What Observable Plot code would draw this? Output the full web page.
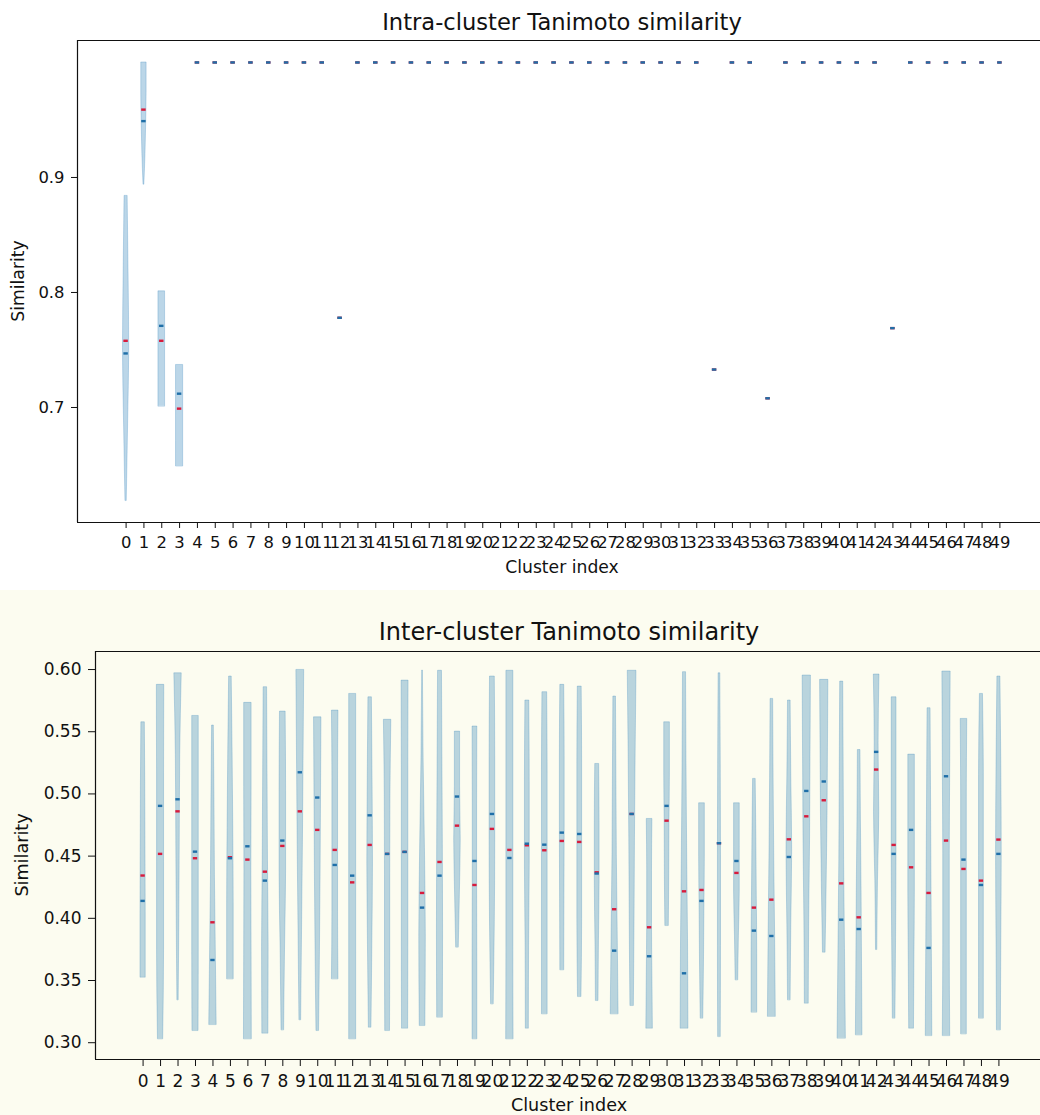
<!DOCTYPE html>
<html>
<head>
<meta charset="utf-8">
<script src="https://cdn.jsdelivr.net/npm/d3@7"></script>
<script src="https://cdn.jsdelivr.net/npm/@observablehq/plot@0.6"></script>
<style>
  body { margin: 0; background: #ffffff; font-family: "DejaVu Sans", sans-serif; color: #111; }
  #page { position: relative; width: 1040px; height: 1115px; overflow: hidden; }
  .panel { position: absolute; left: 0; width: 1040px; }
  #top { top: 0; height: 590px; }
  #bottom { top: 590px; height: 525px; background: #fcfcf0; }
  .txt { position: absolute; white-space: nowrap; transform: translate(-50%, -50%); }
  .rot { transform: translate(-50%, -50%) rotate(-90deg); }
  svg { position: absolute; left: 0; top: 0; overflow: visible; }
</style>
</head>
<body>
<div id="page">
  <div class="panel" id="top"></div>
  <div class="panel" id="bottom"></div>
  <div class="txt" style="left:562px; top:22px; font-size:22.6px;">Intra-cluster Tanimoto similarity</div>
  <div class="txt" style="left:562px; top:567px; font-size:17.2px;">Cluster index</div>
  <div class="txt rot" style="left:18px; top:281px; font-size:17.2px;">Similarity</div>
  <div class="txt" style="left:569px; top:632px; font-size:24px;">Inter-cluster Tanimoto similarity</div>
  <div class="txt" style="left:569px; top:1105px; font-size:17.6px;">Cluster index</div>
  <div class="txt rot" style="left:22px; top:855px; font-size:17.6px;">Similarity</div>
</div>
<script>
// ---------- data ----------
const clusters = [0,1,2,3,4,5,6,7,8,9,10,11,12,13,14,15,16,17,18,19,20,21,22,23,24,25,26,27,28,29,30,31,32,33,34,35,36,37,38,39,40,41,42,43,44,45,46,47,48,49];

// Intra-cluster similarity (top chart)
const intraMin = [0.619,0.894,0.701,0.649,1,1,1,1,1,1,1,1,0.778,1,1,1,1,1,1,1,1,1,1,1,1,1,1,1,1,1,1,1,1,0.733,1,1,0.708,1,1,1,1,1,1,0.769,1,1,1,1,1,1];
const intraMax = [0.884,1.000,0.801,0.737,1,1,1,1,1,1,1,1,0.778,1,1,1,1,1,1,1,1,1,1,1,1,1,1,1,1,1,1,1,1,0.733,1,1,0.708,1,1,1,1,1,1,0.769,1,1,1,1,1,1];
const intraMean = [0.758,0.959,0.758,0.699,1,1,1,1,1,1,1,1,0.778,1,1,1,1,1,1,1,1,1,1,1,1,1,1,1,1,1,1,1,1,0.733,1,1,0.708,1,1,1,1,1,1,0.769,1,1,1,1,1,1];
const intraMedian = [0.747,0.949,0.771,0.712,1,1,1,1,1,1,1,1,0.778,1,1,1,1,1,1,1,1,1,1,1,1,1,1,1,1,1,1,1,1,0.733,1,1,0.708,1,1,1,1,1,1,0.769,1,1,1,1,1,1];
// relative violin width profile from min to max (null = single value, no body)
const intraShape = [
  [0.15,0.45,0.7,0.55,0.35],
  [0.1,0.35,0.5,0.6,0.6],
  [0.75,0.75,0.75,0.75,0.75],
  [0.8,0.8,0.8,0.8,0.8]
].concat(new Array(46).fill(null));
const intraTicks = [0.7, 0.8, 0.9];

// Inter-cluster similarity (bottom chart)
const interMin = [0.3525,0.303,0.3343,0.3097,0.3145,0.3512,0.303,0.3075,0.3102,0.3183,
  0.3097,0.3512,0.303,0.3123,0.3097,0.3115,0.3137,0.3204,0.3767,0.303,
  0.3311,0.303,0.3115,0.3231,0.3585,0.337,0.3338,0.3231,0.3298,0.3115,
  0.3941,0.3115,0.3196,0.3048,0.3504,0.3244,0.321,0.3343,0.3316,0.3726,
  0.3035,0.3062,0.3748,0.3196,0.3115,0.3056,0.3056,0.307,0.3196,0.3102];
const interMax = [0.5576,0.5877,0.597,0.5627,0.555,0.5944,0.5732,0.5858,0.5662,0.5997,
  0.5616,0.567,0.5804,0.5777,0.5596,0.5911,0.5992,0.599,0.5501,0.5542,
  0.5944,0.599,0.5751,0.5818,0.5877,0.5863,0.5241,0.5783,0.599,0.4799,
  0.5576,0.5979,0.4925,0.597,0.4925,0.5121,0.5764,0.5751,0.5952,0.5917,
  0.5903,0.5353,0.596,0.5777,0.5316,0.5689,0.5984,0.5603,0.5804,0.5944];
const interMean = [0.4344,0.4518,0.486,0.4483,0.3968,0.4491,0.4472,0.4375,0.4582,0.486,
  0.4711,0.455,0.4289,0.459,0.4518,0.4534,0.4204,0.4453,0.4745,0.4268,
  0.4719,0.455,0.4587,0.4547,0.4622,0.4614,0.437,0.4073,0.4839,0.3928,
  0.4785,0.4217,0.4228,0.4604,0.4365,0.4086,0.415,0.4635,0.482,0.4949,
  0.4281,0.4008,0.5196,0.459,0.441,0.4204,0.4625,0.4397,0.4303,0.4633];
const interMedian = [0.414,0.4904,0.4957,0.4536,0.3665,0.4483,0.4579,0.4303,0.4625,0.5174,
  0.4971,0.4429,0.4343,0.4828,0.4518,0.4534,0.4086,0.4343,0.4979,0.4461,
  0.4839,0.4485,0.46,0.4592,0.4689,0.4678,0.436,0.374,0.4839,0.3695,
  0.4904,0.3558,0.414,0.4604,0.4461,0.3901,0.3858,0.4493,0.5024,0.51,
  0.3989,0.3914,0.5338,0.4518,0.4711,0.3762,0.5142,0.4472,0.4268,0.4518];
const interShape = [
  [0.6,0.6,0.55,0.5,0.4],[0.6,0.8,0.8,0.8,0.85],[0.15,0.3,0.4,0.5,0.85],[0.7,0.75,0.75,0.75,0.75],[0.85,0.65,0.45,0.35,0.2],
  [0.75,0.75,0.65,0.5,0.3],[0.9,0.85,0.8,0.85,0.85],[0.7,0.75,0.6,0.5,0.4],[0.3,0.5,0.75,0.75,0.65],[0.2,0.4,0.6,0.75,0.9],
  [0.3,0.5,0.65,0.75,0.85],[0.75,0.65,0.65,0.65,0.75],[0.8,0.8,0.8,0.8,0.8],[0.3,0.5,0.65,0.55,0.4],[0.55,0.6,0.6,0.65,0.85],
  [0.7,0.75,0.75,0.75,0.8],[0.65,0.75,0.55,0.25,0.08],[0.65,0.7,0.65,0.55,0.45],[0.3,0.55,0.75,0.6,0.6],[0.55,0.55,0.5,0.5,0.55],
  [0.3,0.55,0.65,0.65,0.55],[0.85,0.8,0.8,0.8,0.8],[0.35,0.4,0.55,0.55,0.45],[0.65,0.65,0.65,0.65,0.55],[0.45,0.5,0.55,0.55,0.45],
  [0.4,0.55,0.55,0.55,0.45],[0.3,0.4,0.55,0.55,0.45],[0.9,0.7,0.5,0.4,0.3],[0.4,0.55,0.65,0.8,1.0],[0.75,0.65,0.55,0.55,0.65],
  [0.4,0.5,0.55,0.65,0.65],[0.9,0.8,0.6,0.45,0.35],[0.3,0.45,0.55,0.65,0.65],[0.3,0.35,0.35,0.3,0.2],[0.3,0.45,0.65,0.65,0.65],
  [0.65,0.65,0.55,0.45,0.3],[0.9,0.75,0.55,0.4,0.3],[0.3,0.45,0.65,0.45,0.3],[0.45,0.55,0.75,0.85,0.95],[0.3,0.55,0.75,0.85,0.95],
  [0.95,0.75,0.55,0.45,0.35],[0.75,0.65,0.55,0.4,0.3],[0.15,0.3,0.6,0.45,0.65],[0.3,0.45,0.55,0.55,0.55],[0.55,0.65,0.75,0.75,0.75],
  [0.75,0.65,0.55,0.45,0.35],[0.85,0.75,0.75,0.85,0.95],[0.65,0.65,0.65,0.65,0.75],[0.55,0.55,0.55,0.55,0.35],[0.45,0.55,0.65,0.55,0.35]
];
const interTicks = [0.30, 0.35, 0.40, 0.45, 0.50, 0.55, 0.60];

// ---------- helpers ----------
const BODY = "#1f77b4", MEAN = "#d81b3c", MEDIAN = "#1f6fa8";
const HALF = 0.25;   // half of violin width (widths = 0.5)
const DASH = 0.125;  // half length of mean / median line

function violinPoints(mins, maxs, shapes) {
  const pts = [];
  clusters.forEach((k, i) => {
    const s = shapes[i];
    if (!s) return;
    s.forEach((w, j) => pts.push({k, v: mins[i] + (maxs[i] - mins[i]) * j / (s.length - 1), w}));
  });
  return pts;
}
const stat = (arr) => clusters.map((k, i) => ({k, v: arr[i]}));

function violinChart({mins, maxs, means, medians, shapes, ticks, fmt, yDomain, xRange, height, mt, mb, ml, fontSize, xt, yt}) {
  return Plot.plot({
    width: 1040, height,
    marginTop: mt, marginBottom: mb, marginLeft: ml, marginRight: 0,
    style: {fontFamily: "DejaVu Sans, sans-serif", fontSize: fontSize, color: "#111", background: "transparent", overflow: "visible"},
    x: {domain: [-2.725, 51.725], range: xRange, ticks: clusters, tickFormat: d => String(d), tickSize: xt[0], tickPadding: xt[1], label: null},
    y: {domain: yDomain, ticks: ticks, tickFormat: fmt, tickSize: yt[0], tickPadding: yt[1], label: null},
    marks: [
      Plot.areaX(violinPoints(mins, maxs, shapes), {
        y: "v", x1: d => d.k - HALF * d.w, x2: d => d.k + HALF * d.w, z: "k",
        fill: BODY, fillOpacity: 0.3, stroke: BODY, strokeOpacity: 0.3, strokeWidth: 0.8, curve: "monotone-y"
      }),
      Plot.ruleY(stat(means), {y: "v", x1: d => d.k - DASH, x2: d => d.k + DASH, stroke: MEAN, strokeWidth: 2.4}),
      Plot.ruleY(stat(medians), {y: "v", x1: d => d.k - DASH, x2: d => d.k + DASH, stroke: MEDIAN, strokeWidth: 2.4}),
      Plot.ruleX([-2.725], {stroke: "#111", strokeWidth: 1.2}),
      Plot.ruleY(yDomain, {stroke: "#111", strokeWidth: 1.2})
    ]
  });
}

document.getElementById("top").appendChild(violinChart({
  mins: intraMin, maxs: intraMax, means: intraMean, medians: intraMedian, shapes: intraShape,
  ticks: intraTicks, fmt: d3.format(".1f"), yDomain: [0.6, 1.0191],
  xRange: [77, 1048], height: 590, mt: 40, mb: 68, ml: 77, fontSize: "16.4px",
  xt: [6, 8], yt: [6, 7]
}));

document.getElementById("bottom").appendChild(violinChart({
  mins: interMin, maxs: interMax, means: interMean, medians: interMedian, shapes: interShape,
  ticks: interTicks, fmt: d3.format(".2f"), yDomain: [0.2865, 0.6145],
  xRange: [95, 1046], height: 525, mt: 61, mb: 56, ml: 95, fontSize: "17px",
  xt: [7, 8], yt: [7, 7]
}));
</script>
</body>
</html>
